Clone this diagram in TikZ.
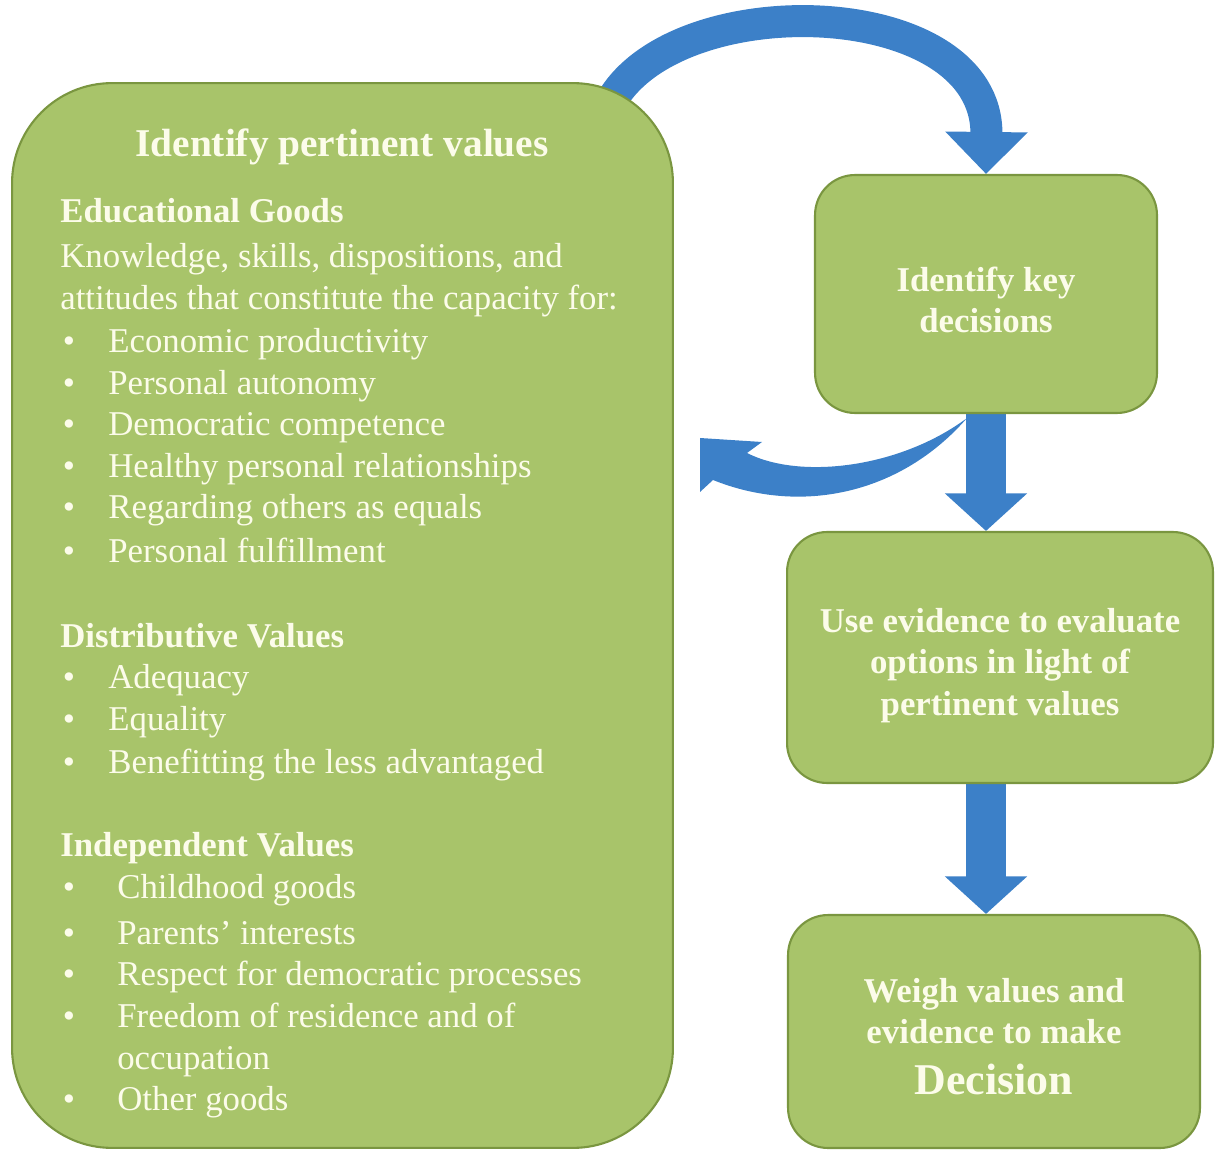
\documentclass[tikz,border=0pt]{standalone}
\usepackage{fontspec}
\setmainfont{Liberation Serif}
\usetikzlibrary{arrows.meta,backgrounds,calc}
\definecolor{boxgreen}{RGB}{168,196,106}
\definecolor{boxedge}{RGB}{122,150,64}
\definecolor{flowblue}{RGB}{60,128,200}
\definecolor{cream}{RGB}{252,252,234}

\begin{document}
\begin{tikzpicture}[x=0.02cm,y=-0.02cm,
   box/.style={draw=boxedge,line width=1.2pt,fill=boxgreen,rounded corners=0.8cm,inner sep=0pt},
   boxtxt/.style={text=cream,inner sep=0pt,align=center,font=\fontsize{19.8}{23.8}\selectfont\bfseries},
   txt/.style={text=cream,inner sep=0pt,font=\fontsize{19.8}{23.8}\selectfont},
   hd/.style={txt,font=\fontsize{19.8}{23.8}\selectfont\bfseries},
   flow/.style={flowblue,line width=0.8cm,-{Triangle[length=0.75cm,width=1.6cm]}}]
   \useasboundingbox (0,0) rectangle (1216,1151);

   % the four boxes
   \node[box,rounded corners=2cm,minimum width=13.22cm,minimum height=21.3cm] (values) at (342.5,615.5) {};
   \node[box,minimum width=6.84cm,minimum height=4.76cm] (keys) at (986,294) {};
   \node[box,minimum width=8.52cm,minimum height=5.02cm] (evid) at (1000,657.5) {};
   \node[box,minimum width=8.24cm,minimum height=4.66cm] (weigh) at (994,1031.5) {};

   \node[boxtxt] (keyst) at ($(keys)+(0,6)$) {Identify key\\decisions};
   \node[boxtxt] (evidt) at ($(evid)+(0,8)$) {Use evidence to evaluate\\options in light of\\pertinent values};
   \node[boxtxt] (weight) at ($(weigh)+(0,5)$)
      {Weigh values and\\evidence to make\\[5pt]{\fontsize{25}{30}\selectfont Decision}};

   % arrows, behind the boxes
   \begin{pgfonlayer}{background}
   \draw[flow,line width=0.64cm,-{Triangle[length=0.84cm,width=1.6cm]}]
      (612,100) .. controls (680,-15) and (988,-5) .. (keys.north);
   \draw[flow] (keys.south) -- (evid.north -| keys.south);
   \draw[flow] (evid.south -| keys.south) -- (weigh.north -| keys.south);
   \fill[flowblue] ($(keys.south)+(-19,4)$) .. controls (900,495) and (800,515) .. (713,480)
      -- (700,492) -- (700,438) -- (762,442) -- (747,453)
      .. controls (800,480) and (900,468) .. ($(keys.south)+(-19,4)$) -- cycle;
   \end{pgfonlayer}

   % text of the big box
   \node[txt,anchor=base,font=\fontsize{22.4}{26}\selectfont\bfseries] (ttl) at (342,157) {Identify pertinent values};
   \node[hd,anchor=base west] (edu) at (60,223) {Educational Goods};
   \node[txt,anchor=base west] (edu1) at (60,268) {Knowledge, skills, dispositions, and};
   \node[txt,anchor=base west] (edu2) at (60,310) {attitudes that constitute the capacity for:};
   \node[txt,anchor=base] (d1) at (69,353) {•};
   \node[txt,anchor=base west] (e1) at (108,353) {Economic productivity};
   \node[txt,anchor=base] (d2) at (69,395) {•};
   \node[txt,anchor=base west] (e2) at (108,395) {Personal autonomy};
   \node[txt,anchor=base] (d3) at (69,436) {•};
   \node[txt,anchor=base west] (e3) at (108,436) {Democratic competence};
   \node[txt,anchor=base] (d4) at (69,478) {•};
   \node[txt,anchor=base west] (e4) at (108,478) {Healthy personal relationships};
   \node[txt,anchor=base] (d5) at (69,519) {•};
   \node[txt,anchor=base west] (e5) at (108,519) {Regarding others as equals};
   \node[txt,anchor=base] (d6) at (69,562) {•};
   \node[txt,anchor=base west] (e6) at (108,562) {Personal fulfillment};

   \node[hd,anchor=base west] (dist) at (60,647) {Distributive Values};
   \node[txt,anchor=base] (d7) at (69,688) {•};
   \node[txt,anchor=base west] (f1) at (108,688) {Adequacy};
   \node[txt,anchor=base] (d8) at (69,730) {•};
   \node[txt,anchor=base west] (f2) at (108,730) {Equality};
   \node[txt,anchor=base] (d9) at (69,773) {•};
   \node[txt,anchor=base west] (f3) at (108,773) {Benefitting the less advantaged};

   \node[hd,anchor=base west] (indep) at (60,856) {Independent Values};
   \node[txt,anchor=base] (d10) at (69,898) {•};
   \node[txt,anchor=base west] (g1) at (117,898) {Childhood goods};
   \node[txt,anchor=base] (d11) at (69,944) {•};
   \node[txt,anchor=base west] (g2) at (117,944) {Parents’ interests};
   \node[txt,anchor=base] (d12) at (69,985) {•};
   \node[txt,anchor=base west] (g3) at (117,985) {Respect for democratic processes};
   \node[txt,anchor=base] (d13) at (69,1027) {•};
   \node[txt,anchor=base west] (g4) at (117,1027) {Freedom of residence and of};
   \node[txt,anchor=base west] (g5) at (117,1069) {occupation};
   \node[txt,anchor=base] (d14) at (69,1110) {•};
   \node[txt,anchor=base west] (g6) at (117,1110) {Other goods};
\end{tikzpicture}
\end{document}
